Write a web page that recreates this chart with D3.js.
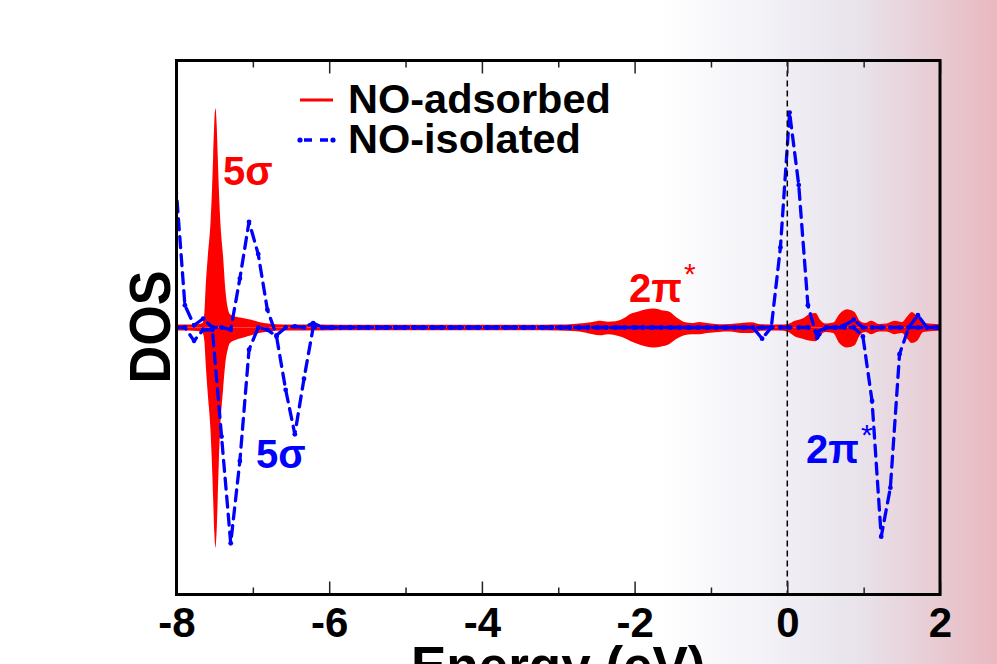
<!DOCTYPE html>
<html>
<head>
<meta charset="utf-8">
<script src="https://cdn.jsdelivr.net/npm/d3@7/dist/d3.min.js"></script>
<style>
  html, body { margin: 0; padding: 0; background: #fff; }
  svg { display: block; }
  text { font-family: "Liberation Sans", Arial, Helvetica, sans-serif; }
</style>
</head>
<body>
<svg id="chart" width="997" height="664"></svg>
<script>
// ---- NO adsorbed: spin-resolved DOS (spin-down stored as magnitudes) ----
const energyAds = [
  -8.00, -7.85, -7.72, -7.66, -7.635, -7.62, -7.59, -7.555, -7.535, -7.52,
  -7.505, -7.49, -7.475, -7.46, -7.445, -7.425, -7.39, -7.36, -7.33, -7.30,
  -7.22, -7.12, -7.02, -6.92, -6.80, -6.60, -6.20, -5.50, -4.50, -3.50,
  -3.00, -2.80, -2.65, -2.55, -2.45, -2.35, -2.25, -2.15, -2.05, -1.95,
  -1.85, -1.75, -1.65, -1.55, -1.45, -1.35, -1.25, -1.15, -1.05, -0.90,
  -0.75, -0.60, -0.47, -0.35, -0.10, 0.00, 0.10, 0.20, 0.30, 0.37,
  0.43, 0.50, 0.60, 0.68, 0.78, 0.88, 0.95, 1.02, 1.10, 1.20,
  1.30, 1.40, 1.50, 1.57, 1.63, 1.70, 1.78, 2.00
];
const dosAdsUp = [
  0.013, 0.013, 0.015, 0.020, 0.065, 0.17, 0.32, 0.47, 0.62, 0.77,
  0.92, 0.985, 0.92, 0.77, 0.62, 0.47, 0.32, 0.17, 0.09, 0.06,
  0.048, 0.042, 0.035, 0.025, 0.018, 0.014, 0.013, 0.012, 0.012, 0.012,
  0.013, 0.016, 0.020, 0.025, 0.030, 0.026, 0.028, 0.040, 0.062, 0.072,
  0.082, 0.085, 0.078, 0.072, 0.045, 0.025, 0.020, 0.025, 0.020, 0.015,
  0.016, 0.020, 0.024, 0.015, 0.013, 0.015, 0.030, 0.040, 0.062, 0.065,
  0.035, 0.018, 0.022, 0.060, 0.082, 0.070, 0.030, 0.020, 0.030, 0.016,
  0.018, 0.030, 0.025, 0.050, 0.070, 0.050, 0.020, 0.015
];
const dosAdsDown = [
  0.013, 0.014, 0.016, 0.022, 0.060, 0.15, 0.30, 0.46, 0.62, 0.77,
  0.92, 0.99, 0.92, 0.77, 0.60, 0.44, 0.28, 0.16, 0.10, 0.07,
  0.055, 0.045, 0.035, 0.025, 0.018, 0.014, 0.013, 0.012, 0.012, 0.012,
  0.013, 0.016, 0.022, 0.030, 0.035, 0.030, 0.035, 0.045, 0.062, 0.075,
  0.085, 0.090, 0.085, 0.075, 0.050, 0.035, 0.030, 0.030, 0.025, 0.020,
  0.018, 0.025, 0.025, 0.015, 0.013, 0.018, 0.040, 0.050, 0.060, 0.062,
  0.035, 0.020, 0.025, 0.070, 0.090, 0.080, 0.035, 0.020, 0.030, 0.018,
  0.018, 0.030, 0.025, 0.050, 0.070, 0.060, 0.020, 0.015
];

// ---- NO isolated: spin-up (positive) and spin-down (negative) ----
const energyIso = [
  -8.01, -7.89, -7.77, -7.65, -7.53, -7.41, -7.29, -7.17, -7.05, -6.93,
  -6.81, -6.69, -6.57, -6.45, -6.33, -6.21, -6.09, -5.97, -5.85, -5.73,
  -5.61, -5.49, -5.37, -5.25, -5.13, -5.01, -4.89, -4.77, -4.65, -4.53,
  -4.41, -4.29, -4.17, -4.05, -3.93, -3.81, -3.69, -3.57, -3.45, -3.33,
  -3.21, -3.09, -2.97, -2.85, -2.73, -2.61, -2.49, -2.37, -2.25, -2.13,
  -2.01, -1.89, -1.77, -1.65, -1.53, -1.41, -1.29, -1.17, -1.05, -0.93,
  -0.81, -0.69, -0.57, -0.45, -0.33, -0.21, -0.09, 0.03, 0.15, 0.27,
  0.39, 0.51, 0.63, 0.75, 0.87, 0.99, 1.11, 1.23, 1.35, 1.47,
  1.59, 1.71, 1.83, 1.95, 2.07
];
const dosIsoUp = [
  0.65, 0.10, 0.01, 0.04, 0, 0, -0.01, 0.22, 0.475, 0.33,
  0.08, -0.035, 0, 0.005, 0, 0.02, 0, 0, 0, 0,
  0, 0, 0, 0, 0, 0, 0, 0, 0, 0,
  0, 0, 0, 0, 0, 0, 0, 0, 0, 0,
  0, 0, 0, 0, 0, 0, 0, 0, 0, 0,
  0, 0, 0, 0, 0, 0, 0, 0, 0, 0,
  0, 0, 0, 0, 0, 0, 0.36, 0.966, 0.64, 0.10,
  -0.045, 0, 0, 0.01, 0.035, 0, 0, 0, 0, 0,
  0, 0.055, 0, 0, 0
];
const dosIsoDown = [
  0, 0, -0.06, -0.01, -0.01, -0.49, -0.97, -0.60, -0.10, 0,
  -0.01, -0.04, -0.28, -0.48, -0.23, 0, 0, 0, 0, 0,
  0, 0, 0, 0, 0, 0, 0, 0, 0, 0,
  0, 0, 0, 0, 0, 0, 0, 0, 0, 0,
  0, 0, 0, 0, 0, 0, 0, 0, 0, 0,
  0, 0, 0, 0, 0, 0, 0, 0, 0, 0,
  0, 0, 0, 0, -0.05, 0, 0, 0, 0, 0,
  -0.02, 0, 0, 0, 0, -0.04, -0.33, -0.94, -0.72, -0.12,
  0, 0, 0, 0, 0
];

const majorTicks = [-8, -6, -4, -2, 0, 2];
const minorTicks = [-7, -5, -3, -1, 1];
const seriesNames = ["NO-adsorbed", "NO-isolated"];

// ---- layout ----
const svg = d3.select("#chart");
const W = 997, H = 664;
const plotLeft = 176.5, plotRight = 940, plotTop = 60.5, plotBottom = 594.5;
const red = "#ff0000", blue = "#0000ff";

const x = d3.scaleLinear().domain([-8, 2]).range([plotLeft, plotRight]);
const y = d3.scaleLinear().domain([-1.2, 1.2]).range([plotBottom, plotTop]);

// page background: white fading to lavender and rose on the right
const defs = svg.append("defs");
const grad = defs.append("linearGradient").attr("id", "bg")
  .attr("x1", 0).attr("x2", 1).attr("y1", 0).attr("y2", 0);
[[0, "#ffffff"], [0.66, "#ffffff"], [0.76, "#f3f3f8"], [0.86, "#e9e3eb"],
 [0.94, "#e8cbd3"], [1, "#e9b8c0"]].forEach(([o, c]) =>
  grad.append("stop").attr("offset", o).attr("stop-color", c));
svg.append("rect").attr("width", W).attr("height", H).attr("fill", "url(#bg)");

defs.append("clipPath").attr("id", "plotClip")
  .append("rect").attr("x", plotLeft).attr("y", plotTop)
  .attr("width", plotRight - plotLeft).attr("height", plotBottom - plotTop);

const plot = svg.append("g").attr("clip-path", "url(#plotClip)");

// adsorbed NO: filled spin-up and spin-down areas
const ads = energyAds.map((e, i) => ({ e, up: dosAdsUp[i], dn: dosAdsDown[i] }));
plot.append("path").datum(ads)
  .attr("fill", red)
  .attr("d", d3.area().curve(d3.curveMonotoneX)
    .x(d => x(d.e)).y0(y(0)).y1(d => y(d.up)));
plot.append("path").datum(ads)
  .attr("fill", red)
  .attr("d", d3.area().curve(d3.curveMonotoneX)
    .x(d => x(d.e)).y0(y(0)).y1(d => y(-d.dn)));

// isolated NO: dashed lines with dots at each sampled energy
const isoUp = energyIso.map((e, i) => ({ e, v: dosIsoUp[i] }));
const isoDn = energyIso.map((e, i) => ({ e, v: dosIsoDown[i] }));
const line = d3.line().x(d => x(d.e)).y(d => y(d.v));
[isoUp, isoDn].forEach(s => {
  plot.append("path").datum(s)
    .attr("fill", "none").attr("stroke", blue).attr("stroke-width", 3.3)
    .attr("stroke-dasharray", "11,7").attr("stroke-linecap", "round")
    .attr("d", line);
  plot.selectAll(null).data(s).join("circle")
    .attr("cx", d => x(d.e)).attr("cy", d => y(d.v)).attr("r", 2.4)
    .attr("fill", blue);
});

// Fermi level
svg.append("line")
  .attr("x1", x(0)).attr("x2", x(0)).attr("y1", plotTop).attr("y2", plotBottom)
  .attr("stroke", "#000").attr("stroke-width", 1.5).attr("stroke-dasharray", "6,4");

// axes: inward ticks on bottom and top
function styleAxis(g) {
  g.select(".domain").remove();
  g.selectAll(".tick line").attr("stroke", "#222").attr("stroke-width", 1.5);
}
svg.append("g").attr("transform", `translate(0,${plotBottom})`)
  .call(d3.axisBottom(x).tickValues(majorTicks).tickSize(-13).tickPadding(13)
    .tickFormat(d => String(d)))
  .call(styleAxis)
  .call(g => g.selectAll(".tick text")
    .attr("fill", "#000").attr("font-size", 42).attr("font-weight", "bold")
    .attr("font-family", "Liberation Sans, Arial, sans-serif"));
svg.append("g").attr("transform", `translate(0,${plotBottom})`)
  .call(d3.axisBottom(x).tickValues(minorTicks).tickSize(-7).tickFormat(""))
  .call(styleAxis);
svg.append("g").attr("transform", `translate(0,${plotTop})`)
  .call(d3.axisTop(x).tickValues(majorTicks).tickSize(-13).tickFormat(""))
  .call(styleAxis);
svg.append("g").attr("transform", `translate(0,${plotTop})`)
  .call(d3.axisTop(x).tickValues(minorTicks).tickSize(-7).tickFormat(""))
  .call(styleAxis);

// frame
svg.append("rect").attr("x", plotLeft).attr("y", plotTop)
  .attr("width", plotRight - plotLeft).attr("height", plotBottom - plotTop)
  .attr("fill", "none").attr("stroke", "#000").attr("stroke-width", 3);

// axis titles
svg.append("text").attr("x", (plotLeft + plotRight) / 2).attr("y", 684)
  .attr("text-anchor", "middle").attr("font-size", 53).attr("font-weight", "bold")
  .text("Energy (eV)");
svg.append("text").attr("transform", "translate(170,327) rotate(-90)")
  .attr("text-anchor", "middle").attr("font-size", 57).attr("font-weight", "bold")
  .attr("textLength", 113).attr("lengthAdjust", "spacingAndGlyphs")
  .text("DOS");

// legend
const leg = svg.append("g");
leg.append("line").attr("x1", 300).attr("x2", 333).attr("y1", 100).attr("y2", 100)
  .attr("stroke", red).attr("stroke-width", 3);
leg.append("line").attr("x1", 300).attr("x2", 333).attr("y1", 140).attr("y2", 140)
  .attr("stroke", blue).attr("stroke-width", 3.3).attr("stroke-dasharray", "8,8")
  .attr("stroke-dashoffset", -4);
[300, 333].forEach(cx => leg.append("circle").attr("cx", cx).attr("cy", 140)
  .attr("r", 2.6).attr("fill", blue));
leg.selectAll("text.name").data(seriesNames).join("text")
  .attr("class", "name").attr("x", 348).attr("y", (d, i) => 113 + 40 * i)
  .attr("font-size", 41.5).attr("font-weight", "bold").attr("fill", "#000")
  .text(d => d);

// orbital labels
function orbital(xp, yp, color, main, star) {
  const t = svg.append("text").attr("x", xp).attr("y", yp).attr("fill", color)
    .attr("font-size", 40).attr("font-weight", "bold");
  t.append("tspan").text(main);
  if (star) {
    t.append("tspan").attr("font-size", 30).attr("font-weight", "normal")
      .attr("dx", 2).attr("dy", -18).text("*");
  }
}
orbital(223, 185, red, "5σ", false);
orbital(256, 468, blue, "5σ", false);
orbital(629, 302, red, "2π", true);
orbital(806, 463, blue, "2π", true);
</script>
</body>
</html>
